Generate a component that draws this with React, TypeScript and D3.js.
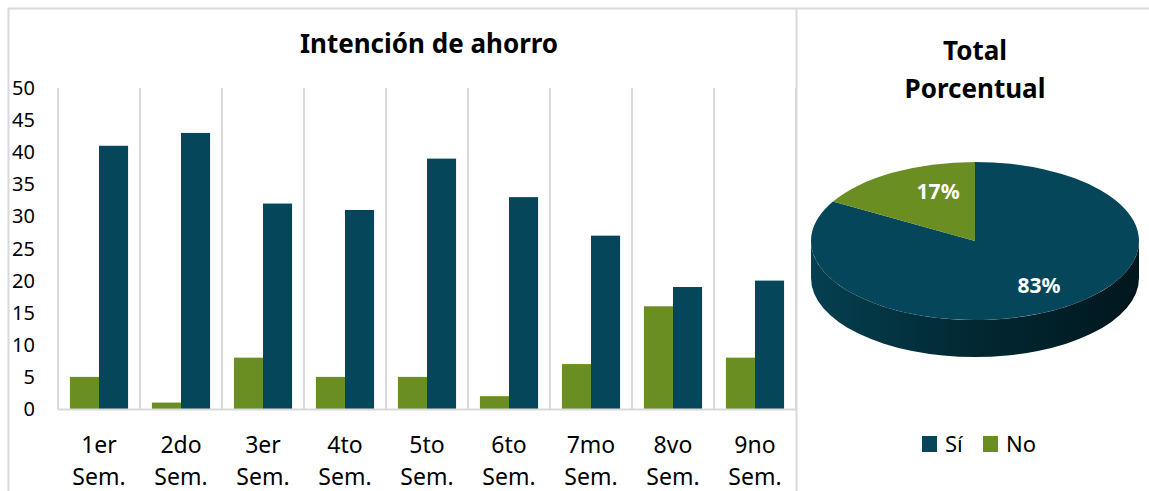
import React from "react";
import * as d3 from "d3";

const categories = ["1er Sem.", "2do Sem.", "3er Sem.", "4to Sem.", "5to Sem.", "6to Sem.", "7mo Sem.", "8vo Sem.", "9no Sem."];
const seriesNames = ["No", "Sí"];
const noValues = [5, 1, 8, 5, 5, 2, 7, 16, 8];
const siValues = [41, 43, 32, 31, 39, 33, 27, 19, 20];
const yTicks = [0, 5, 10, 15, 20, 25, 30, 35, 40, 45, 50];
const legendItems = ["Sí", "No"];

const W = 1149;
const H = 491;
const BLUE = "#06465A";
const GREEN = "#6B8E23";
const GRID = "#D9D9D9";
const FONT = "'Noto Sans', 'Open Sans', sans-serif";

export default function App() {
  const x = d3.scaleBand<string>().domain(categories).range([58, 796]).padding(0);
  const xs = d3.scaleBand<string>().domain(seriesNames).range([0, x.bandwidth()]).paddingInner(0).paddingOuter(0.41);
  const y = d3.scaleLinear().domain([0, 50]).range([409, 88]);

  const colorOf: Record<string, string> = { "Sí": BLUE, "No": GREEN };
  const valuesOf: Record<string, number[]> = { "Sí": siValues, "No": noValues };

  // Pie
  const totals = [
    { name: "Sí", value: d3.sum(siValues) },
    { name: "No", value: d3.sum(noValues) },
  ];
  const grand = d3.sum(totals, (d) => d.value);
  const pie = d3.pie<{ name: string; value: number }>().sort(null).value((d) => d.value);
  const arcs = pie(totals);
  const cx = 975, cy = 241, rx = 164, ry = 79, depth = 37;
  const pt = (a: number) => [cx + rx * Math.sin(a), cy - ry * Math.cos(a)];
  const slicePath = (a0: number, a1: number) => {
    const [x0, y0] = pt(a0);
    const [x1, y1] = pt(a1);
    const large = a1 - a0 > Math.PI ? 1 : 0;
    return `M${cx},${cy}L${x0},${y0}A${rx},${ry} 0 ${large} 1 ${x1},${y1}Z`;
  };
  const sidePath = `M${cx - rx},${cy}L${cx - rx},${cy + depth}A${rx},${ry} 0 0 0 ${cx + rx},${cy + depth}L${cx + rx},${cy}A${rx},${ry} 0 0 1 ${cx - rx},${cy}Z`;
  const labelPos = (a: number, share: number) => {
    const small = share < 0.25;
    const fx = small ? 0.45 : 0.78;
    const fy = small ? 0.72 : 0.66;
    return [cx + rx * fx * Math.sin(a), cy - ry * fy * Math.cos(a)];
  };

  const gridXs = [...categories.map((c) => x(c)!), 796];

  return (
    <svg width={W} height={H} style={{ position: "absolute", left: 0, top: 0, background: "#fff" }} fontFamily={FONT}>
      <defs>
        <linearGradient id="side" x1="0" x2="1" y1="0" y2="0">
          <stop offset="0" stopColor="#053F50" />
          <stop offset="0.45" stopColor="#022A35" />
          <stop offset="0.85" stopColor="#011C24" />
          <stop offset="1" stopColor="#01161C" />
        </linearGradient>
      </defs>
      {/* frame */}
      <line x1={8} x2={W} y1={8.5} y2={8.5} stroke={GRID} strokeWidth={2} />
      <line x1={8.5} x2={8.5} y1={8} y2={H} stroke={GRID} strokeWidth={2} />
      <line x1={796.5} x2={796.5} y1={8} y2={H} stroke={GRID} strokeWidth={2} />

      {/* bar chart title */}
      <text x={429} y={53} textAnchor="middle" fontSize={26} fontWeight="bold" fill="#000">Intención de ahorro</text>

      {/* vertical grid */}
      {gridXs.map((gx, i) => (
        <line key={i} x1={gx} x2={gx} y1={88} y2={409} stroke={GRID} strokeWidth={2} />
      ))}
      {/* bars */}
      {seriesNames.map((s) => (
        <g key={s} fill={colorOf[s]}>
          {categories.map((c, i) => (
            <rect key={c} x={x(c)! + xs(s)!} width={xs.bandwidth()} y={y(valuesOf[s][i])} height={y(0) - y(valuesOf[s][i])} />
          ))}
        </g>
      ))}
      {/* x axis line */}
      <line x1={58} x2={796} y1={409.5} y2={409.5} stroke={GRID} strokeWidth={2} />
      {/* y tick labels */}
      {yTicks.map((t) => (
        <text key={t} x={35} y={y(t) + 7} textAnchor="end" fontSize={20} fill="#000">{t}</text>
      ))}
      {/* category labels */}
      {categories.map((c) => {
        const parts = c.split(" ");
        const cxl = x(c)! + x.bandwidth() / 2;
        return (
          <text key={c} textAnchor="middle" fontSize={23} fill="#000">
            <tspan x={cxl} y={453}>{parts[0]}</tspan>
            <tspan x={cxl} y={485}>{parts[1]}</tspan>
          </text>
        );
      })}

      {/* pie title */}
      <text textAnchor="middle" fontSize={26} fontWeight="bold" fill="#000">
        <tspan x={975} y={60}>Total</tspan>
        <tspan x={975} y={98}>Porcentual</tspan>
      </text>
      {/* pie side */}
      <path d={sidePath} fill="url(#side)" />
      {/* pie top */}
      {arcs.map((a) => (
        <path key={a.data.name} d={slicePath(a.startAngle, a.endAngle)} fill={colorOf[a.data.name]} />
      ))}
      {arcs.map((a) => {
        const share = a.data.value / grand;
        const [lx, ly] = labelPos((a.startAngle + a.endAngle) / 2, share);
        return (
          <text key={a.data.name} x={lx} y={ly + 7} textAnchor="middle" fontSize={21} fontWeight="bold" fill="#fff">
            {`${Math.round(share * 100)}%`}
          </text>
        );
      })}
      {/* legend */}
      {legendItems.map((name, i) => {
        const lx = 922 + i * 61;
        return (
          <g key={name}>
            <rect x={lx} y={436} width={15} height={16} fill={colorOf[name]} />
            <text x={lx + 23} y={452} fontSize={22} fill="#000">{name}</text>
          </g>
        );
      })}
    </svg>
  );
}
